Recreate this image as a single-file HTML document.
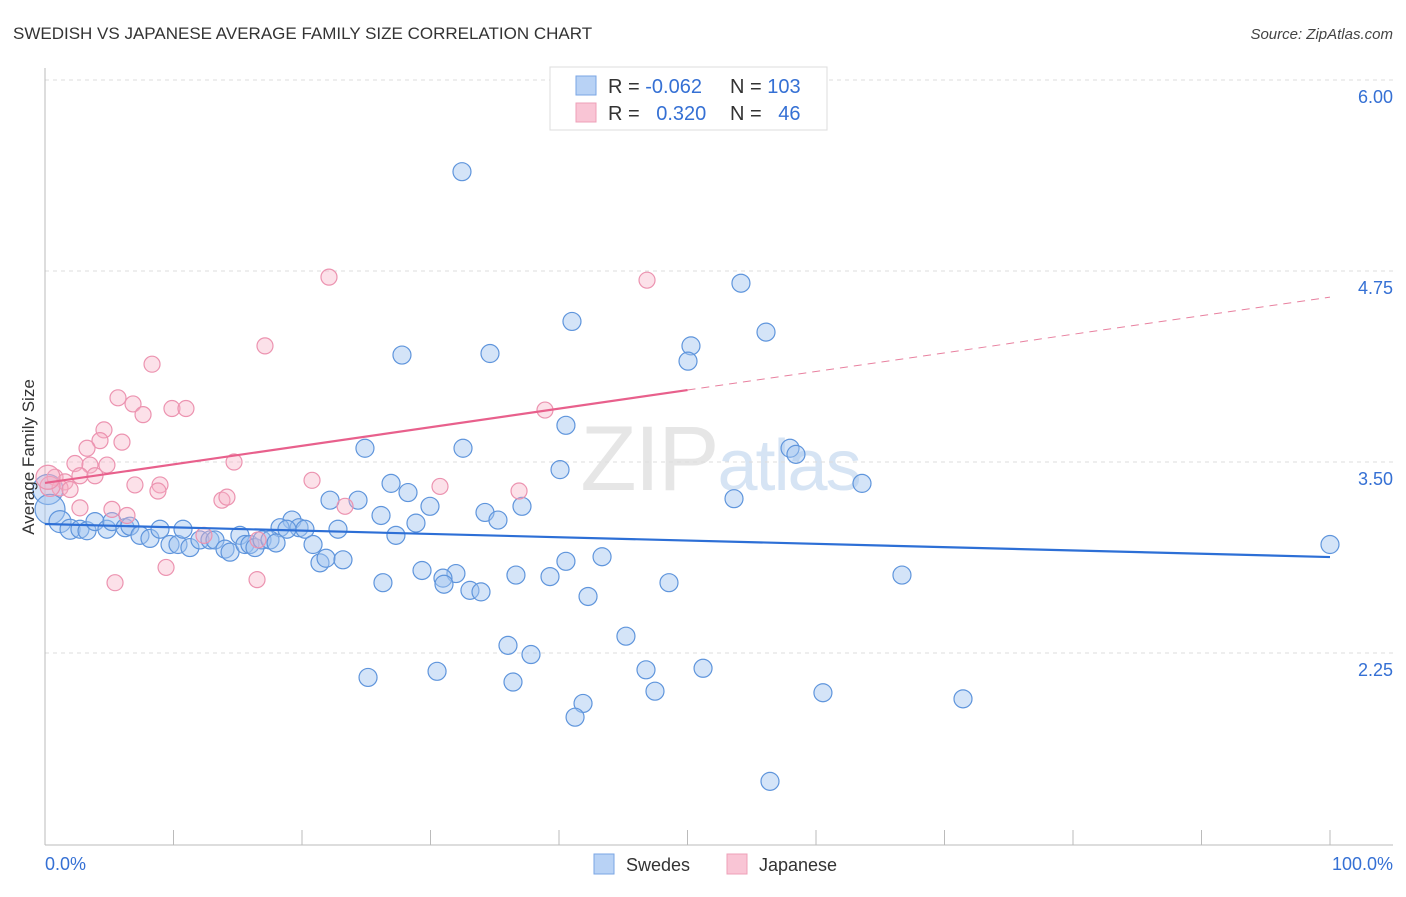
<!DOCTYPE html>
<html><head><meta charset="utf-8"><style>
body{margin:0;background:#fff;font-family:"Liberation Sans",sans-serif;}
svg text{font-family:"Liberation Sans",sans-serif;}
</style></head><body>
<svg id="chart" width="1406" height="892" xmlns="http://www.w3.org/2000/svg">
<text x="13" y="39" font-size="17" fill="#333">SWEDISH VS JAPANESE AVERAGE FAMILY SIZE CORRELATION CHART</text>
<text x="1393" y="39" font-size="15" fill="#444" font-style="italic" text-anchor="end">Source: ZipAtlas.com</text>
<text x="720" y="490" font-size="92" text-anchor="middle" fill="#e6e6e6" font-family="Liberation Serif" letter-spacing="-2">ZIP<tspan fill="#d6e4f4" font-family="Liberation Sans" font-size="72">atlas</tspan></text>
<g id="grid"></g>
<g id="axes"></g>
<g id="trend"></g>
<g id="pts"></g>
<text transform="translate(34,457) rotate(-90)" font-size="17" fill="#333" text-anchor="middle">Average Family Size</text>
<g>
<rect x="550" y="67" width="277" height="63" fill="#fff" stroke="#ddd"/>
<rect x="576" y="76" width="20" height="19" fill="#b8d2f5" stroke="#7aa6e4"/>
<rect x="576" y="103" width="20" height="19" fill="#f9c5d5" stroke="#eea0b8"/>
<text x="608" y="93" font-size="20" fill="#333">R = <tspan fill="#3570d4">-0.062</tspan></text>
<text x="730" y="93" font-size="20" fill="#333">N = <tspan fill="#3570d4">103</tspan></text>
<text x="608" y="120" font-size="20" fill="#333">R = <tspan fill="#3570d4" dx="11">0.320</tspan></text>
<text x="730" y="120" font-size="20" fill="#333">N = <tspan fill="#3570d4" dx="11">46</tspan></text>
</g>
<g>
<rect x="594" y="854" width="20" height="20" fill="#b8d2f5" stroke="#7aa6e4"/>
<text x="626" y="871" font-size="18" fill="#333">Swedes</text>
<rect x="727" y="854" width="20" height="20" fill="#f9c5d5" stroke="#eea0b8"/>
<text x="759" y="871" font-size="18" fill="#333">Japanese</text>
</g>
</svg>
<script>
const yTicks=[6.00,4.75,3.50,2.25];
const yTickLabels=["6.00","4.75","3.50","2.25"];
const xTicks=[10,20,30,40,50,60,70,80,90,100];
const blueX=[32.45,54.16,41.01,56.11,27.78,34.63,50.27,50.04,24.90,32.53,40.54,40.08,57.98,58.44,63.58,53.62,22.18,24.36,26.93,28.25,29.96,34.24,37.12,35.25,26.15,28.87,27.31,22.80,19.22,19.77,20.23,18.29,18.83,20.86,21.40,21.87,23.19,29.34,31.98,30.97,31.05,33.07,33.93,36.65,39.30,40.54,43.35,42.26,48.56,66.69,100,26.30,45.21,36.03,37.82,25.14,30.51,36.42,46.77,47.47,51.21,41.87,41.25,60.54,71.44,56.42,0.23,0.39,1.17,1.95,2.72,3.27,3.89,4.82,5.21,6.23,6.61,7.39,8.17,8.95,9.73,10.35,10.74,11.28,12.06,12.84,13.23,14.01,14.40,15.17,15.56,15.95,16.34,16.89,17.51,17.98];
const blueY=[5.40,4.67,4.42,4.35,4.20,4.21,4.26,4.16,3.59,3.59,3.74,3.45,3.59,3.55,3.36,3.26,3.25,3.25,3.36,3.30,3.21,3.17,3.21,3.12,3.15,3.10,3.02,3.06,3.12,3.07,3.06,3.07,3.06,2.96,2.84,2.87,2.86,2.79,2.77,2.74,2.70,2.66,2.65,2.76,2.75,2.85,2.88,2.62,2.71,2.76,2.96,2.71,2.36,2.30,2.24,2.09,2.13,2.06,2.14,2.00,2.15,1.92,1.83,1.99,1.95,1.41,3.32,3.19,3.11,3.06,3.06,3.05,3.11,3.06,3.11,3.07,3.08,3.02,3.00,3.06,2.96,2.96,3.06,2.94,2.99,2.99,2.99,2.93,2.91,3.02,2.96,2.96,2.94,2.99,2.99,2.97];
const blueR=[9,9,9,9,9,9,9,9,9,9,9,9,9,9,9,9,9,9,9,9,9,9,9,9,9,9,9,9,9,9,9,9,9,9,9,9,9,9,9,9,9,9,9,9,9,9,9,9,9,9,9,9,9,9,9,9,9,9,9,9,9,9,9,9,9,9,15,15,11,10,9,9,9,9,9,9,9,9,9,9,9,9,9,9,9,9,9,9,9,9,9,9,9,9,9,9];
const pinkX=[22.10,46.85,17.12,8.33,5.68,6.85,7.63,9.88,10.97,4.59,4.28,3.27,5.99,14.71,2.33,3.50,4.82,2.72,3.89,0.78,1.56,1.17,1.95,8.95,7.00,8.79,13.77,14.16,20.78,30.74,36.89,38.91,23.35,2.72,5.21,6.38,12.37,16.58,9.42,5.45,16.50,0.39,0.23];
const pinkY=[4.71,4.69,4.26,4.14,3.92,3.88,3.81,3.85,3.85,3.71,3.64,3.59,3.63,3.50,3.49,3.48,3.48,3.41,3.41,3.40,3.37,3.33,3.32,3.35,3.35,3.31,3.25,3.27,3.38,3.34,3.31,3.84,3.21,3.20,3.19,3.15,3.02,2.99,2.81,2.71,2.73,3.34,3.40];
const pinkR=[8,8,8,8,8,8,8,8,8,8,8,8,8,8,8,8,8,8,8,8,8,8,8,8,8,8,8,8,8,8,8,8,8,8,8,8,8,8,8,8,8,10,12];
const blueTrend=[3.094,2.878];
const pinkTrend=[3.363,4.579];
const pinkSolidEnd=50;
const NS="http://www.w3.org/2000/svg";
const X0=45,X1=1330,YT=80,PX=152.8;
function xs(v){return X0+(X1-X0)*v/100;}
function ys(v){return YT+(6-v)*PX;}
function mk(tag,attrs,parent){const e=document.createElementNS(NS,tag);for(const k in attrs)e.setAttribute(k,attrs[k]);parent.appendChild(e);return e;}
const grid=document.getElementById('grid'),axes=document.getElementById('axes'),trend=document.getElementById('trend'),pts=document.getElementById('pts');
yTicks.forEach((t,i)=>{
 const l=mk('line',{x1:45,x2:1393,y1:ys(t),y2:ys(t),stroke:'#ddd','stroke-dasharray':'4,4'},grid);
 
 
 const tx=mk('text',{x:1393,y:ys(t)+23,'font-size':18,fill:'#3570d4','text-anchor':'end'},axes);
 tx.textContent=yTickLabels[i];
 
 
});
let a=mk('line',{x1:45,x2:45,y1:68,y2:845,stroke:'#bbb'},axes);


a=mk('line',{x1:45,x2:1393,y1:845,y2:845,stroke:'#bbb'},axes);


xTicks.forEach(t=>{const l=mk('line',{x1:xs(t),x2:xs(t),y1:830,y2:845,stroke:'#bbb'},axes);
 
 });
let tl=mk('text',{x:45,y:870,'font-size':18,fill:'#3570d4'},axes);tl.textContent='0.0%';


tl=mk('text',{x:1393,y:870,'font-size':18,fill:'#3570d4','text-anchor':'end'},axes);tl.textContent='100.0%';


function drawPts(xa,ya,ra,fill,stroke,name){xa.forEach((x,i)=>{const c=mk('circle',{cx:xs(x),cy:ys(ya[i]),r:ra[i],fill:fill,stroke:stroke,'stroke-width':1.2},pts);
 
 });}
drawPts(blueX,blueY,blueR,'rgba(160,196,240,0.45)','#5f95dc','swedes-point');
drawPts(pinkX,pinkY,pinkR,'rgba(246,175,198,0.38)','#ec93b0','japanese-point');
let t=mk('line',{x1:xs(0),x2:xs(100),y1:ys(blueTrend[0]),y2:ys(blueTrend[1]),stroke:'#2d6fd6','stroke-width':2.2},trend);


const pm=pinkTrend[0]+(pinkTrend[1]-pinkTrend[0])*pinkSolidEnd/100;
t=mk('line',{x1:xs(0),x2:xs(pinkSolidEnd),y1:ys(pinkTrend[0]),y2:ys(pm),stroke:'#e8608c','stroke-width':2.2},trend);


t=mk('line',{x1:xs(pinkSolidEnd),x2:xs(100),y1:ys(pm),y2:ys(pinkTrend[1]),stroke:'#e8809f','stroke-width':1,'stroke-dasharray':'8,6'},trend);


document.getElementById('chart').appendChild(trend);
</script>
</body></html>
